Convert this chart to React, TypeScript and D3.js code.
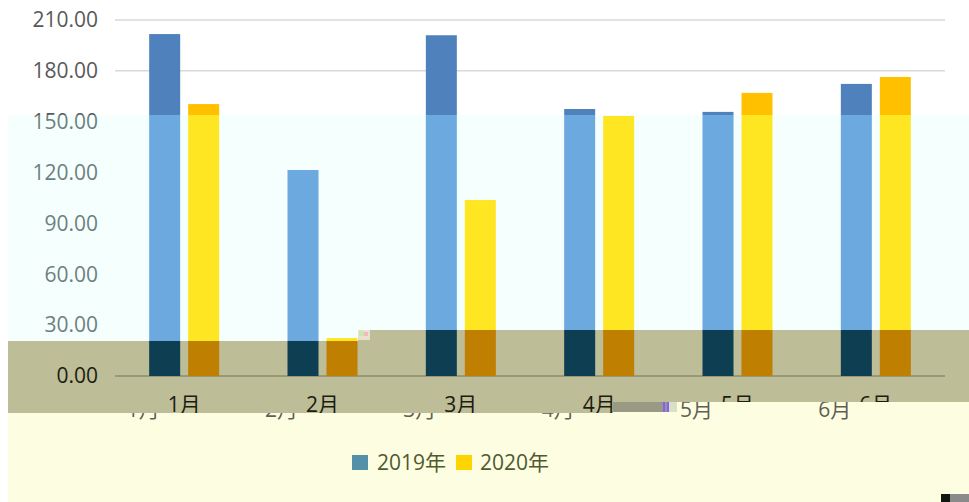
import React from "react";
import * as d3 from "d3";

const categories = ["1月", "2月", "3月", "4月", "5月", "6月"];
const seriesNames = ["2019年", "2020年"];
const values2019 = [201.7, 121.5, 201, 157.5, 155.8, 172.3];
const values2020 = [160.4, 22.4, 103.8, 153.4, 167, 176.4];
const yTicks = [0, 30, 60, 90, 120, 150, 180, 210];

const W = 969;
const H = 502;
const plotLeft = 115;
const plotRight = 945;
const y0px = 376;
const yTopPx = 20;

type Theme = {
  id: string;
  bg: string;
  grid: string | null;
  axis: string;
  c2019: string;
  c2020: string;
  yLabel: string;
  xLabel: string | null;
  xOffset: number;
  yOffset: number;
  legend: boolean;
};

const themes: Theme[] = [
  { id: "top", bg: "#ffffff", grid: "#d9d9d9", axis: "#bfbfbf", c2019: "#4f81bd", c2020: "#ffc000", yLabel: "#595959", xLabel: "#595959", xOffset: 0, yOffset: 0, legend: false },
  { id: "cyan", bg: "#f5fffe", grid: null, axis: "#c0cccc", c2019: "#6ca9df", c2020: "#ffe622", yLabel: "#6e7f7f", xLabel: null, xOffset: 0, yOffset: 0, legend: false },
  { id: "khaki", bg: "#bdbd97", grid: null, axis: "#8e8e70", c2019: "#0e3e52", c2020: "#bf7f00", yLabel: "#1c1c10", xLabel: "#1c1c10", xOffset: 0, yOffset: 0, legend: false },
  { id: "yellow", bg: "#fdfee1", grid: null, axis: "#fdfee1", c2019: "#5590a9", c2020: "#ffd400", yLabel: "#5f5f55", xLabel: "#5f5f55", xOffset: -41, yOffset: 5, legend: true },
];

const clips: Record<string, string> = {
  top: `M0,0H${W}V${H}H0Z`,
  cyan: `M8,115H${W}V330H358V341H8Z`,
  khaki: `M8,341H358V330H${W}V402H613V413H8Z`,
  yellow: `M8,413H613V402H${W}V${H}H8Z`,
};

const FONT = "'Open Sans', 'Noto Sans', 'Noto Sans CJK SC', sans-serif";
const FS = 21;

export default function App() {
  const y = d3.scaleLinear().domain([0, 210]).range([y0px, yTopPx]);
  const x0 = d3
    .scaleBand<string>()
    .domain(categories)
    .range([plotLeft, plotRight])
    .paddingInner(0.494)
    .paddingOuter(0.247);
  const x1 = d3
    .scaleBand<string>()
    .domain(seriesNames)
    .range([0, x0.bandwidth()])
    .paddingInner(0.205);

  const rows = categories.map((c, i) => ({ c, v: [values2019[i], values2020[i]] }));

  const layer = (t: Theme) => (
    <g key={t.id} clipPath={`url(#clip-${t.id})`}>
      <rect x={0} y={0} width={W} height={H} fill={t.bg} />
      {t.grid &&
        yTicks.filter((v) => v > 0).map((v) => (
          <line key={v} x1={plotLeft} x2={plotRight} y1={y(v)} y2={y(v)} stroke={t.grid} strokeWidth={1.5} />
        ))}
      <line x1={plotLeft} x2={plotRight} y1={y(0)} y2={y(0)} stroke={t.axis} strokeWidth={1.5} />
      {rows.map((r) =>
        r.v.map((v, k) => (
          <rect
            key={r.c + k}
            x={(x0(r.c) as number) + (x1(seriesNames[k]) as number)}
            y={y(v)}
            width={x1.bandwidth()}
            height={y(0) - y(v)}
            fill={k === 0 ? t.c2019 : t.c2020}
          />
        ))
      )}
      {yTicks.map((v) => (
        <text key={v} x={98} y={y(v)} dy="0.35em" textAnchor="end" fontSize={FS} fontFamily={FONT} fill={t.yLabel}>
          {d3.format(".2f")(v)}
        </text>
      ))}
      {t.xLabel &&
        categories.map((c) => (
          <text
            key={c}
            x={(x0(c) as number) + x0.bandwidth() / 2 + t.xOffset}
            y={405 + t.yOffset}
            dy="0.35em"
            textAnchor="middle"
            fontSize={FS}
            fontFamily={FONT}
            fill={t.xLabel}
          >
            {c}
          </text>
        ))}
      {t.legend && (
        <g fontFamily={FONT} fontSize={FS} fill="#4f5a2e">
          <rect x={352} y={455} width={16} height={15} fill={t.c2019} />
          <text x={377} y={463} dy="0.35em">{seriesNames[0]}</text>
          <rect x={456} y={455} width={16} height={15} fill={t.c2020} />
          <text x={480} y={463} dy="0.35em">{seriesNames[1]}</text>
        </g>
      )}
    </g>
  );

  return (
    <svg width={W} height={H} style={{ position: "absolute", left: 0, top: 0, display: "block" }}>
      <defs>
        {Object.entries(clips).map(([id, d]) => (
          <clipPath key={id} id={`clip-${id}`}>
            <path d={d} />
          </clipPath>
        ))}
      </defs>
      {themes.map(layer)}
      {/* glitch artifacts */}
      <rect x={358} y={330} width={12} height={10} fill="#e8e0d0" />
      <rect x={359} y={331} width={5} height={5} fill="#c8e8b0" />
      <rect x={364} y={332} width={4} height={4} fill="#f0b8c0" />
      <rect x={613} y={402} width={54} height={10} fill="#9a9a84" />
      <rect x={663} y={402} width={2} height={10} fill="#8a5cff" />
      <rect x={667} y={402} width={2} height={10} fill="#8a5cff" />
      <rect x={669} y={402} width={8} height={10} fill="#d8e0c8" />
      <rect x={941} y={494} width={9} height={8} fill="#101810" />
      <rect x={950} y={494} width={19} height={8} fill="#8a8a8a" />
    </svg>
  );
}
